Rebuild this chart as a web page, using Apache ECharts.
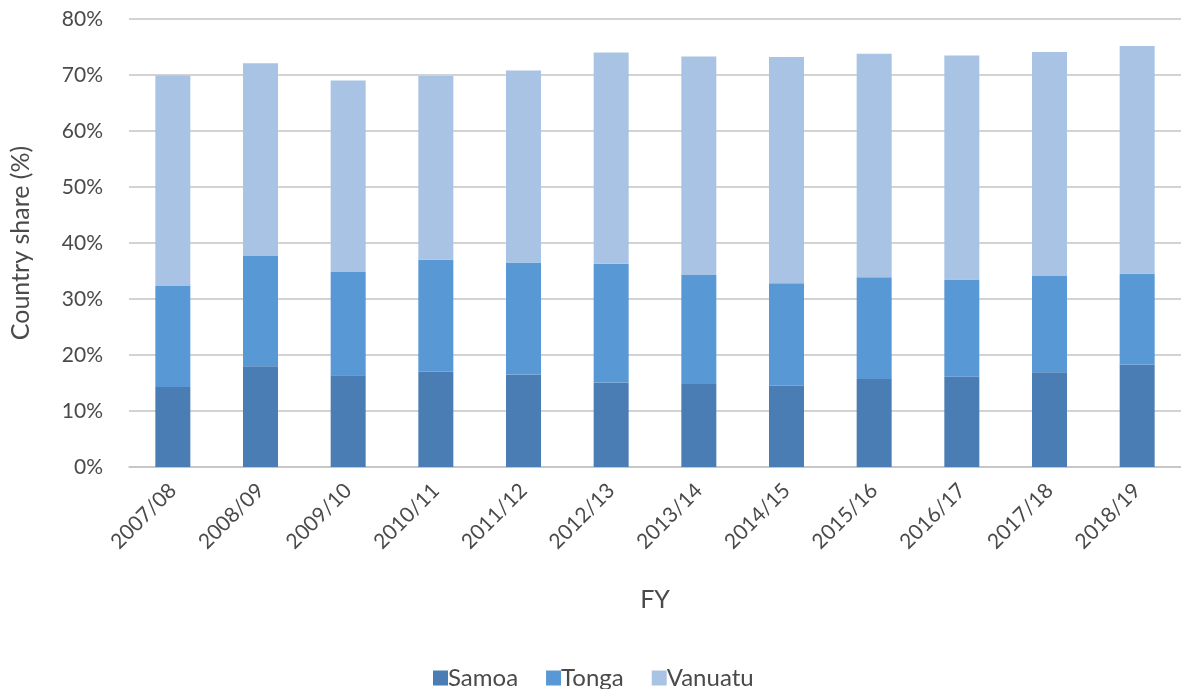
<!DOCTYPE html>
<html>
<head>
<meta charset="utf-8">
<script src="https://cdn.jsdelivr.net/npm/echarts@6/dist/echarts.min.js"></script>
<style>
  html, body { margin: 0; padding: 0; background: #fff; }
  #chart { width: 1181px; height: 689px; }
</style>
</head>
<body>
<div id="chart"></div>
<script>
// financial years
const years = ['2007/08', '2008/09', '2009/10', '2010/11', '2011/12', '2012/13',
  '2013/14', '2014/15', '2015/16', '2016/17', '2017/18', '2018/19']

// country share (%) per year
const samoa = [14.3, 18.0, 16.4, 17.0, 16.5, 15.1, 14.8, 14.5, 15.7, 16.1, 16.9, 18.3]
const tonga = [18.0, 19.7, 18.4, 20.0, 20.0, 21.2, 19.5, 18.3, 18.2, 17.4, 17.2, 16.2]
const vanuatu = [37.6, 34.4, 34.2, 32.8, 34.3, 37.7, 39.0, 40.4, 39.9, 40.0, 40.0, 40.7]

const yTicks = [0, 10, 20, 30, 40, 50, 60, 70, 80]

const font = 'Lato, "Open Sans", sans-serif'
const textColor = '#4a4a4a'

const chart = echarts.init(document.getElementById('chart'))

const bar = (name, data, color) => ({
  name: name,
  type: 'bar',
  stack: 'share',
  barWidth: 35,
  data: data,
  itemStyle: { color: color }
})

chart.setOption({
  animation: false,
  textStyle: { fontFamily: font },
  grid: { left: 118, top: 19, width: 1068, height: 448 },
  legend: {
    top: 661,
    left: 428,
    icon: 'rect',
    itemWidth: 15,
    itemHeight: 15,
    itemGap: 28,
    textStyle: { fontSize: 24, color: textColor, fontFamily: font, padding: [0, 0, 0, -5] },
    data: ['Samoa', 'Tonga', 'Vanuatu']
  },
  xAxis: {
    type: 'category',
    data: years,
    name: 'FY',
    nameLocation: 'middle',
    nameGap: 120,
    nameTextStyle: { fontSize: 25, color: textColor },
    axisLine: { lineStyle: { color: '#c4c4c4', width: 1.5 } },
    axisTick: { show: false },
    axisLabel: { rotate: 45, fontSize: 21, color: textColor, margin: 20, interval: 0 }
  },
  yAxis: {
    type: 'value',
    min: yTicks[0],
    max: yTicks[yTicks.length - 1],
    interval: 10,
    name: 'Country share (%)',
    nameLocation: 'middle',
    nameGap: 96,
    nameTextStyle: { fontSize: 25, color: textColor },
    axisLine: { show: false },
    axisTick: { show: false },
    axisLabel: { fontSize: 21, color: textColor, margin: 26, formatter: '{value}%' },
    splitLine: { lineStyle: { color: '#c4c4c4', width: 1.5 } }
  },
  series: [
    bar('Samoa', samoa, '#4a7db4'),
    bar('Tonga', tonga, '#5898d4'),
    bar('Vanuatu', vanuatu, '#a8c3e3')
  ]
})
</script>
</body>
</html>
